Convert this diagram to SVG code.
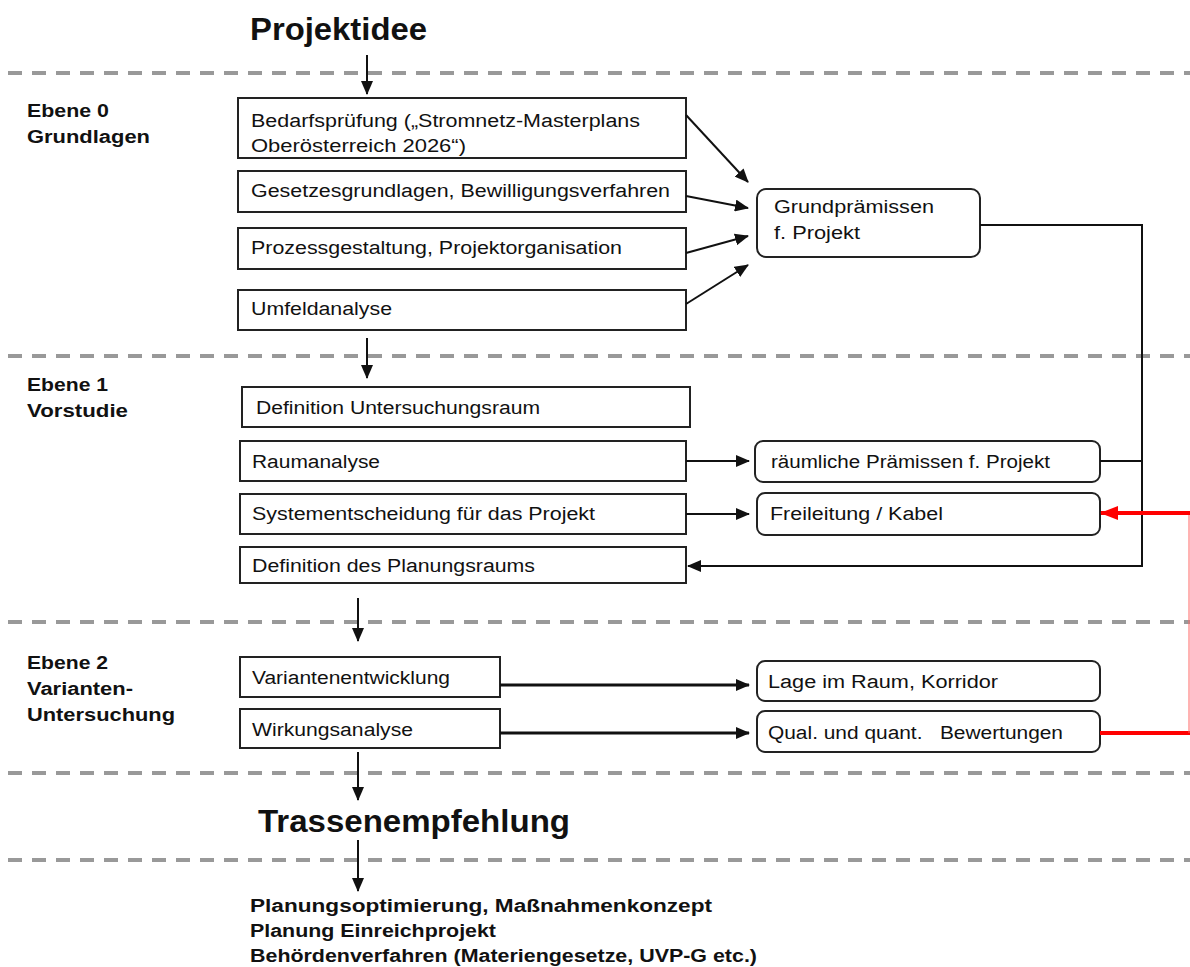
<svg xmlns="http://www.w3.org/2000/svg" width="1190" height="967" viewBox="0 0 1190 967">
<defs>
<style>
.bx{fill:#fff;stroke:#222;stroke-width:2}
.t{font-family:"Liberation Sans",Arial,sans-serif;font-size:18px;fill:#111}
.b{font-family:"Liberation Sans",Arial,sans-serif;font-size:18px;font-weight:bold;fill:#111}
.h{font-family:"Liberation Sans",Arial,sans-serif;font-size:31px;font-weight:bold;fill:#111}
.dash{stroke:#999;stroke-width:4;stroke-dasharray:14 10;fill:none}
.c{stroke:#111;stroke-width:2;fill:none}
.c3{stroke:#111;stroke-width:3;fill:none}
.r{stroke:#f00;stroke-width:4;fill:none}
</style>
<marker id="a" markerUnits="userSpaceOnUse" markerWidth="14" markerHeight="12" refX="13" refY="6" orient="auto"><path d="M0,0 L14,6 L0,12 z" fill="#111"/></marker>
<marker id="ar" markerUnits="userSpaceOnUse" markerWidth="18" markerHeight="14" refX="17" refY="7" orient="auto"><path d="M0,0 L18,7 L0,14 z" fill="#f00"/></marker>
</defs>
<g id="separators">
<line class="dash" x1="8" y1="73" x2="1190" y2="73"/>
<line class="dash" x1="8" y1="356" x2="1190" y2="356"/>
<line class="dash" x1="8" y1="622" x2="1190" y2="622"/>
<line class="dash" x1="8" y1="773" x2="1190" y2="773"/>
<line class="dash" x1="8" y1="860" x2="1190" y2="860"/>
</g>
<g id="labels">
<text class="h" x="250" y="40" textLength="177" lengthAdjust="spacingAndGlyphs">Projektidee</text>
<text class="b" x="27" y="117" textLength="82" lengthAdjust="spacingAndGlyphs">Ebene 0</text>
<text class="b" x="27" y="143" textLength="123" lengthAdjust="spacingAndGlyphs">Grundlagen</text>
<text class="b" x="27" y="391" textLength="81" lengthAdjust="spacingAndGlyphs">Ebene 1</text>
<text class="b" x="27" y="417" textLength="101" lengthAdjust="spacingAndGlyphs">Vorstudie</text>
<text class="b" x="27" y="669" textLength="81" lengthAdjust="spacingAndGlyphs">Ebene 2</text>
<text class="b" x="27" y="695" textLength="106" lengthAdjust="spacingAndGlyphs">Varianten-</text>
<text class="b" x="27" y="721" textLength="148" lengthAdjust="spacingAndGlyphs">Untersuchung</text>
<text class="h" x="258" y="832" textLength="312" lengthAdjust="spacingAndGlyphs">Trassenempfehlung</text>
<text class="b" x="250" y="912" textLength="462" lengthAdjust="spacingAndGlyphs">Planungsoptimierung, Maßnahmenkonzept</text>
<text class="b" x="250" y="937" textLength="246" lengthAdjust="spacingAndGlyphs">Planung Einreichprojekt</text>
<text class="b" x="250" y="962" textLength="507" lengthAdjust="spacingAndGlyphs">Behördenverfahren (Materiengesetze, UVP-G etc.)</text>
</g>
<g id="n_bedarf"><rect class="bx" x="238" y="98" width="448" height="60"/>
<text class="t" x="251" y="127" textLength="389" lengthAdjust="spacingAndGlyphs">Bedarfsprüfung („Stromnetz-Masterplans</text>
<text class="t" x="251" y="152" textLength="215" lengthAdjust="spacingAndGlyphs">Oberösterreich 2026“)</text></g>
<g id="n_gesetz"><rect class="bx" x="238" y="171" width="448" height="41"/>
<text class="t" x="251" y="197" textLength="419" lengthAdjust="spacingAndGlyphs">Gesetzesgrundlagen, Bewilligungsverfahren</text></g>
<g id="n_prozess"><rect class="bx" x="238" y="228" width="448" height="41"/>
<text class="t" x="251" y="254" textLength="371" lengthAdjust="spacingAndGlyphs">Prozessgestaltung, Projektorganisation</text></g>
<g id="n_umfeld"><rect class="bx" x="238" y="290" width="448" height="40"/>
<text class="t" x="251" y="315" textLength="141" lengthAdjust="spacingAndGlyphs">Umfeldanalyse</text></g>
<g id="n_grund"><rect class="bx" x="757" y="189" width="223" height="68" rx="9"/>
<text class="t" x="774" y="213" textLength="160" lengthAdjust="spacingAndGlyphs">Grundprämissen</text>
<text class="t" x="774" y="239" textLength="86" lengthAdjust="spacingAndGlyphs">f. Projekt</text></g>
<g id="n_defunt"><rect class="bx" x="242" y="387" width="448" height="40"/>
<text class="t" x="256" y="414" textLength="284" lengthAdjust="spacingAndGlyphs">Definition Untersuchungsraum</text></g>
<g id="n_raum"><rect class="bx" x="240" y="441" width="446" height="40"/>
<text class="t" x="252" y="468" textLength="128" lengthAdjust="spacingAndGlyphs">Raumanalyse</text></g>
<g id="n_system"><rect class="bx" x="240" y="494" width="446" height="40"/>
<text class="t" x="252" y="520" textLength="343" lengthAdjust="spacingAndGlyphs">Systementscheidung für das Projekt</text></g>
<g id="n_defplan"><rect class="bx" x="240" y="547" width="446" height="36"/>
<text class="t" x="252" y="572" textLength="283" lengthAdjust="spacingAndGlyphs">Definition des Planungsraums</text></g>
<g id="n_raeuml"><rect class="bx" x="755" y="441" width="345" height="41" rx="8"/>
<text class="t" x="771" y="468" textLength="279" lengthAdjust="spacingAndGlyphs">räumliche Prämissen f. Projekt</text></g>
<g id="n_frei"><rect class="bx" x="757" y="493" width="343" height="42" rx="8"/>
<text class="t" x="770" y="520" textLength="173" lengthAdjust="spacingAndGlyphs">Freileitung / Kabel</text></g>
<g id="n_variant"><rect class="bx" x="240" y="657" width="260" height="40"/>
<text class="t" x="252" y="684" textLength="198" lengthAdjust="spacingAndGlyphs">Variantenentwicklung</text></g>
<g id="n_wirkung"><rect class="bx" x="240" y="709" width="260" height="39"/>
<text class="t" x="252" y="736" textLength="161" lengthAdjust="spacingAndGlyphs">Wirkungsanalyse</text></g>
<g id="n_lage"><rect class="bx" x="757" y="661" width="343" height="40" rx="8"/>
<text class="t" x="768" y="688" textLength="230" lengthAdjust="spacingAndGlyphs">Lage im Raum, Korridor</text></g>
<g id="n_qual"><rect class="bx" x="757" y="711" width="343" height="41" rx="8"/>
<text class="t" x="768" y="739" textLength="295" lengthAdjust="spacingAndGlyphs" xml:space="preserve">Qual. und quant.   Bewertungen</text></g>
<g id="connectors">
<line class="c" x1="367" y1="55" x2="367" y2="94" marker-end="url(#a)"/>
<line class="c" x1="686" y1="115" x2="748" y2="182" marker-end="url(#a)"/>
<line class="c" x1="686" y1="196" x2="748" y2="208" marker-end="url(#a)"/>
<line class="c" x1="686" y1="253" x2="748" y2="236" marker-end="url(#a)"/>
<line class="c" x1="686" y1="304" x2="748" y2="265" marker-end="url(#a)"/>
<polyline class="c" points="980,225 1142,225 1142,566 688,566" marker-end="url(#a)"/>
<line class="c" x1="1100" y1="461" x2="1142" y2="461"/>
<line class="c" x1="367" y1="338" x2="367" y2="378" marker-end="url(#a)"/>
<line class="c" x1="686" y1="461" x2="749" y2="461" marker-end="url(#a)"/>
<line class="c" x1="686" y1="514" x2="749" y2="514" marker-end="url(#a)"/>
<line class="c" x1="358" y1="598" x2="358" y2="641" marker-end="url(#a)"/>
<line class="c3" x1="500" y1="685" x2="749" y2="685" marker-end="url(#a)"/>
<line class="c3" x1="500" y1="733" x2="749" y2="733" marker-end="url(#a)"/>
<line class="c" x1="358" y1="752" x2="358" y2="800" marker-end="url(#a)"/>
<line class="c" x1="358" y1="840" x2="358" y2="891" marker-end="url(#a)"/>
<line class="r" x1="1100" y1="733" x2="1190" y2="733"/>
<line x1="1189" y1="513" x2="1189" y2="733" stroke="#f66" stroke-width="1"/>
<line class="r" x1="1190" y1="513" x2="1101" y2="513" marker-end="url(#ar)"/>
</g>
</svg>
